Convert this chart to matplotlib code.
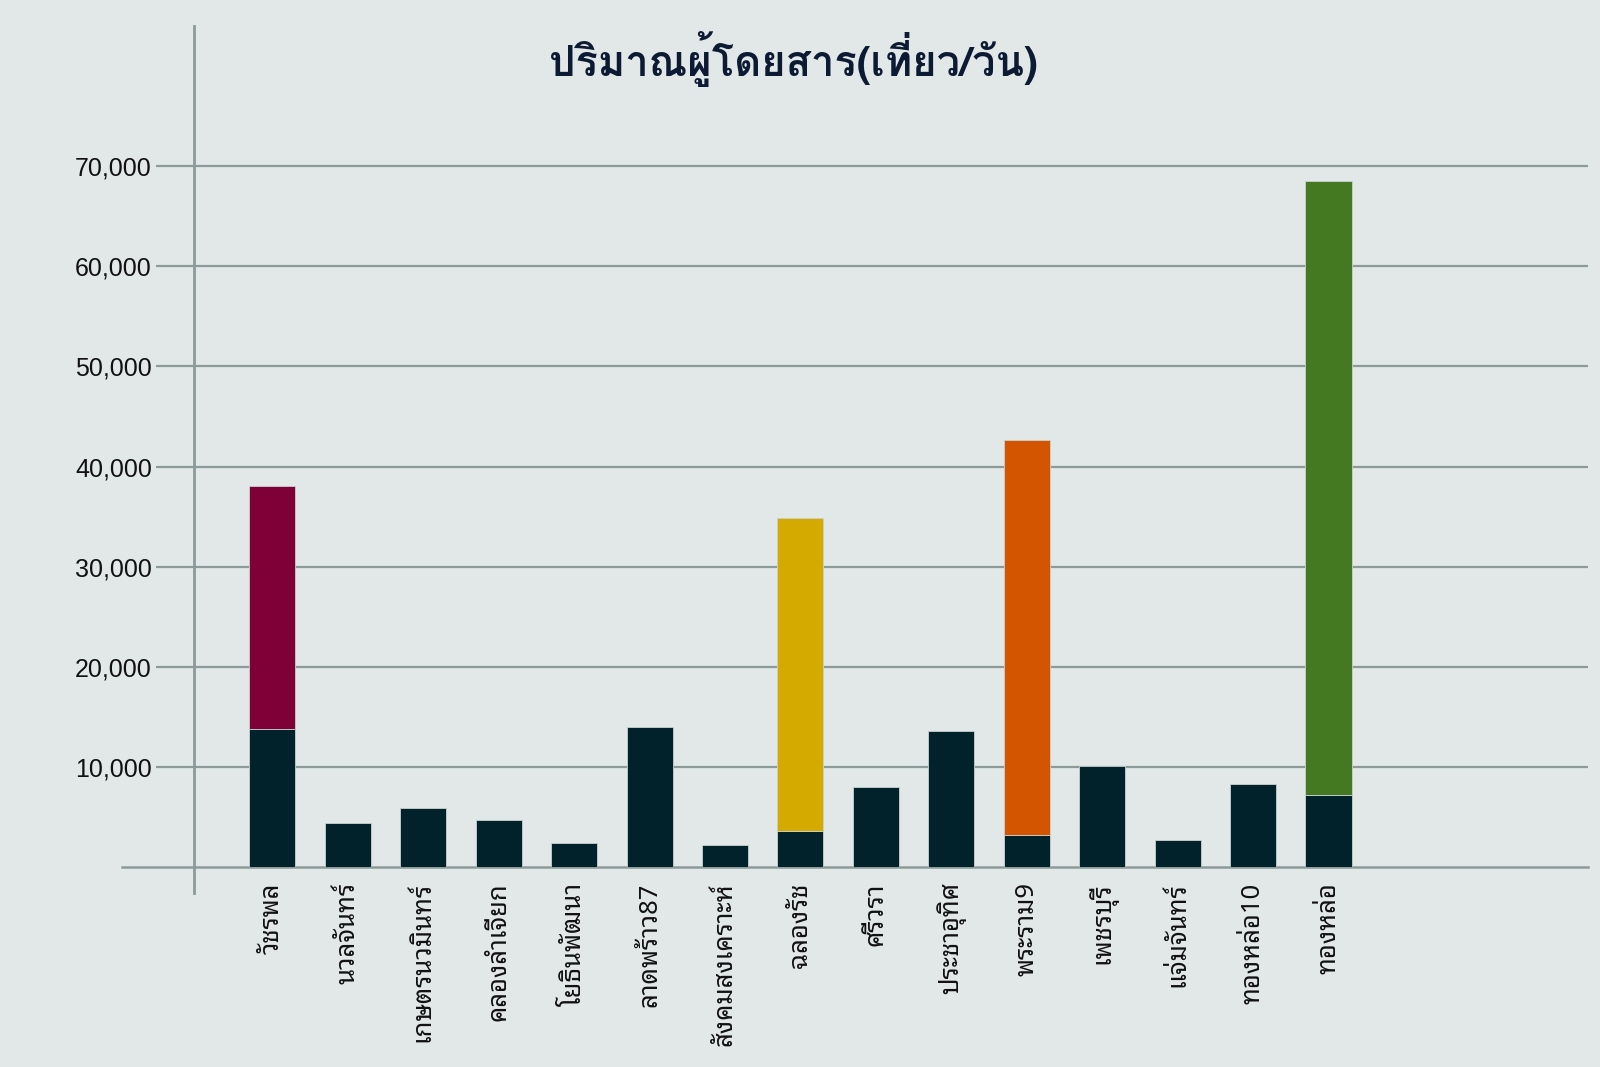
import matplotlib
matplotlib.use('agg')
import matplotlib.pyplot as plt
from matplotlib.ticker import FuncFormatter

# data
stations = ['วัชรพล', 'นวลจันทร์', 'เกษตรนวมินทร์', 'คลองลำเจียก', 'โยธินพัฒนา',
            'ลาดพร้าว87', 'สังคมสงเคราะห์', 'ฉลองรัช', 'ศรีวรา', 'ประชาอุทิศ',
            'พระราม9', 'เพชรบุรี', 'แจ่มจันทร์', 'ทองหล่อ10', 'ทองหล่อ']
base_trips = [13800, 4400, 5900, 4700, 2400, 14000, 2200, 3600, 8000, 13600,
              3200, 10100, 2700, 8300, 7200]
# extra trips on the interchange stations (0 = none)
extra_trips = [24300, 0, 0, 0, 0, 0, 0, 31300, 0, 0, 39500, 0, 0, 0, 61300]
extra_colors = ['#7f0036', None, None, None, None, None, None, '#d4aa00', None, None,
                '#d45500', None, None, None, '#447821']
yticks = [10000, 20000, 30000, 40000, 50000, 60000, 70000]
title = 'ปริมาณผู้โดยสาร(เที่ยว/วัน)'

bg = '#e2e8e8'
dark = '#01212b'
grid_col = '#8d9a9a'

plt.rcParams['font.family'] = ['Loma', 'Noto Sans Thai Looped', 'DejaVu Sans']

fig = plt.figure(figsize=(16, 10.67), dpi=100, facecolor=bg)
ax = fig.add_axes([0.0975, 0.1874, 0.895, 0.7037])
ax.set_facecolor(bg)

x = list(range(len(stations)))
ax.bar(x, base_trips, width=0.61, color=dark, edgecolor='#c9d1d1', linewidth=0.6, zorder=3)
for i in x:
    if extra_trips[i] > 0:
        ax.bar(i, extra_trips[i], bottom=base_trips[i], width=0.61, color=extra_colors[i],
               edgecolor='#c9d1d1', linewidth=0.6, zorder=3)

ax.set_xlim(-1.543, 17.44)
ax.set_ylim(0, 75000)

for y in yticks:
    ax.axhline(y, color=grid_col, linewidth=1.6, zorder=1)
# baseline runs a bit past the left axis
ax.plot([-1.99, 17.44], [0, 0], color=grid_col, linewidth=1.8, clip_on=False, zorder=2)
# left axis line
ax.plot([-1.04, -1.04], [84000, -2600], color=grid_col, linewidth=2.0, clip_on=False, zorder=2)

for s in ax.spines.values():
    s.set_visible(False)

ax.set_yticks(yticks)
ax.yaxis.set_major_formatter(FuncFormatter(lambda v, p: '{:,.0f}'.format(v)))
ax.tick_params(axis='y', length=0, pad=3, labelsize=18, labelcolor='#111111')
for lab in ax.get_yticklabels():
    lab.set_family(['Liberation Sans', 'DejaVu Sans'])

# station names: looped font keeps the vowel/tone marks in place
ax.set_xticks(x)
ax.set_xticklabels(stations, rotation=90, fontsize=18.5, color='#111111', va='top', ha='center',
                   family=['Noto Sans Thai Looped', 'DejaVu Sans'])
ax.tick_params(axis='x', length=0, pad=11)

fig.text(0.496, 0.945, title, fontsize=30, fontweight='bold', color='#0d1a33',
         ha='center', va='center')

fig.savefig('out.png', dpi=100, facecolor=bg)
